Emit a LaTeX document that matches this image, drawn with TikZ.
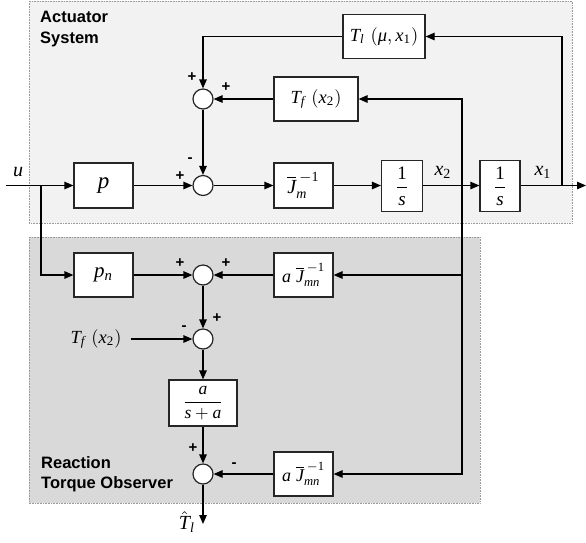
\documentclass[tikz,border=0pt]{standalone}
\usepackage{amsmath}
\usepackage{fontspec}
\setsansfont{Liberation Sans}
\newfontfamily\tms[NFSSFamily=lsr]{Liberation Serif}
\DeclareMathAlphabet{\mi}{TU}{lsr}{m}{it}
\DeclareMathAlphabet{\mr}{TU}{lsr}{m}{n}
\usetikzlibrary{arrows.meta}
\definecolor{actfill}{HTML}{F2F2F2}
\definecolor{obsfill}{HTML}{D9D9D9}
\newcommand\mth[2][2]{\scalebox{#1}{$\displaystyle #2$}}
\begin{document}
\begin{tikzpicture}[x=1pt,y=-1pt,
  blk/.style={draw=black!85,line width=1.2pt,fill=white,inner sep=0pt},
  sumc/.style={draw=black!85,line width=1.2pt,circle,minimum size=20pt,inner sep=0pt,fill=white},
  conn/.style={line width=1.2pt,-{Triangle[length=9pt,width=7.5pt]}},
  sgn/.style={font=\sffamily\bfseries\fontsize{15}{15}\selectfont,inner sep=0pt},
  grp/.style={draw=gray!80,densely dotted,line width=0.6pt},
  ttl/.style={font=\sffamily\bfseries\fontsize{16.5}{20.5}\selectfont,align=left,inner sep=0pt,anchor=north west},
  lbl/.style={inner sep=0pt}]
\useasboundingbox (0,0) rectangle (586,542);
% group boxes
\path[grp,fill=actfill] (29,1) rectangle (572,223);
\path[grp,fill=obsfill] (29,237) rectangle (480,503);
\node[ttl] (tact) at (40,11) {Actuator\\System};
\node[ttl] (tobs) at (41,456) {Reaction\\Torque Observer};
% blocks
\node[blk,minimum width=59pt,minimum height=45pt] (p) at (103.5,185.5) {\mth[2.3]{\mi{p}}};
\node[blk,minimum width=82pt,minimum height=44pt] (Tl) at (384,36.5) {\mth[1.85]{\mi{T}_{\mi{l}}\,\left(\text{\tms\itshape μ},\mi{x}_{\mr{1}}\right)}};
\node[blk,minimum width=84pt,minimum height=44pt] (Tf) at (316,99) {\mth[1.85]{\mi{T}_{\mi{f}}\,\left(\mi{x}_{\mr{2}}\right)}};
\node[blk,minimum width=59pt,minimum height=45pt] (Jm) at (303.5,185.5) {\mth{\overline{\mi{J}}_{\mi{m}}^{\,-\mr{1}}}};
\node[blk,minimum width=41pt,minimum height=51pt] (s1) at (402,186) {\mth[1.9]{\frac{\mr{1}}{\mi{s}}}};
\node[blk,minimum width=40pt,minimum height=51pt] (s2) at (500,186) {\mth[1.9]{\frac{\mr{1}}{\mi{s}}}};
\node[blk,minimum width=59pt,minimum height=44pt] (pn) at (103.5,275) {\mth[2.1]{\mi{p}_{\mi{n}}}};
\node[blk,minimum width=59pt,minimum height=44pt] (aJ1) at (303.5,275) {\mth[1.8]{\mi{a}\;\overline{\mi{J}}_{\mi{mn}}^{\,-\mr{1}}}};
\node[blk,minimum width=68pt,minimum height=46pt] (filt) at (203,403) {\mth[1.75]{\frac{\mi{a}}{\mi{s}+\mi{a}}}};
\node[blk,minimum width=59pt,minimum height=44pt] (aJ2) at (303.5,474) {\mth[1.8]{\mi{a}\;\overline{\mi{J}}_{\mi{mn}}^{\,-\mr{1}}}};
% sums
\node[sumc] (sum1) at (203,185.5) {};
\node[sumc] (sum2) at (203,99) {};
\node[sumc] (sum3) at (203,275) {};
\node[sumc] (sum4) at (203,339) {};
\node[sumc] (sum5) at (203,474) {};
% coordinates
\coordinate (uin) at (6,185.5);
\coordinate (ub) at (41,185.5);
\coordinate (x2b) at (462,185.5);
\coordinate (x1b) at (562,185.5);
\coordinate (yout) at (586,185.5);
\coordinate (tout) at (203,524);
% labels
\node[lbl] (ulab) at (18,172) {\mth{\mi{u}}};
\node[lbl] (x2lab) at (443,172) {\mth{\mi{x}_{\mr{2}}}};
\node[lbl] (x1lab) at (543,172) {\mth{\mi{x}_{\mr{1}}}};
\node[lbl] (tflab) at (96,339) {\mth[1.85]{\mi{T}_{\mi{f}}\,\left(\mi{x}_{\mr{2}}\right)}};
\node[lbl] (thlab) at (187,522) {\mth{\hat{\mi{T}}_{\mi{l}}}};
% connectors
\draw[conn] (uin) -- (p.west);
\draw[conn] (ub) |- (pn.west);
\draw[conn] (p.east) -- (sum1.west);
\draw[conn] (sum1.east) -- (Jm.west);
\draw[conn] (Jm.east) -- (s1.west |- Jm.east);
\draw[conn] (s1.east |- x2b) -- (s2.west |- x2b);
\draw[conn] (s2.east |- x1b) -- (yout);
\draw[conn] (x1b) |- (Tl.east);
\draw[conn] (Tl.west) -| (sum2.north);
\draw[conn] (x2b) |- (Tf.east);
\draw[conn] (x2b) |- (aJ1.east);
\draw[conn] (x2b) |- (aJ2.east);
\draw[conn] (Tf.west) -- (sum2.east);
\draw[conn] (sum2.south) -- (sum1.north);
\draw[conn] (pn.east) -- (sum3.west);
\draw[conn] (aJ1.west) -- (sum3.east);
\draw[conn] (sum3.south) -- (sum4.north);
\draw[conn,shorten <=9pt] (tflab.east) -- (sum4.west);
\draw[conn] (sum4.south) -- (filt.north);
\draw[conn] (filt.south) -- (sum5.north);
\draw[conn] (aJ2.west) -- (sum5.east);
\draw[conn] (sum5.south) -- (tout);
% signs
\node[sgn] (s1a) at (180,176) {+};
\node[sgn] (s1b) at (190,160) {-};
\node[sgn] (s2a) at (192,77) {+};
\node[sgn] (s2b) at (226,87) {+};
\node[sgn] (s3a) at (180,263) {+};
\node[sgn] (s3b) at (226,263) {+};
\node[sgn] (s4a) at (217,318) {+};
\node[sgn] (s4b) at (184,328) {-};
\node[sgn] (s5a) at (193,448) {+};
\node[sgn] (s5b) at (234,465) {-};
\end{tikzpicture}
\end{document}
